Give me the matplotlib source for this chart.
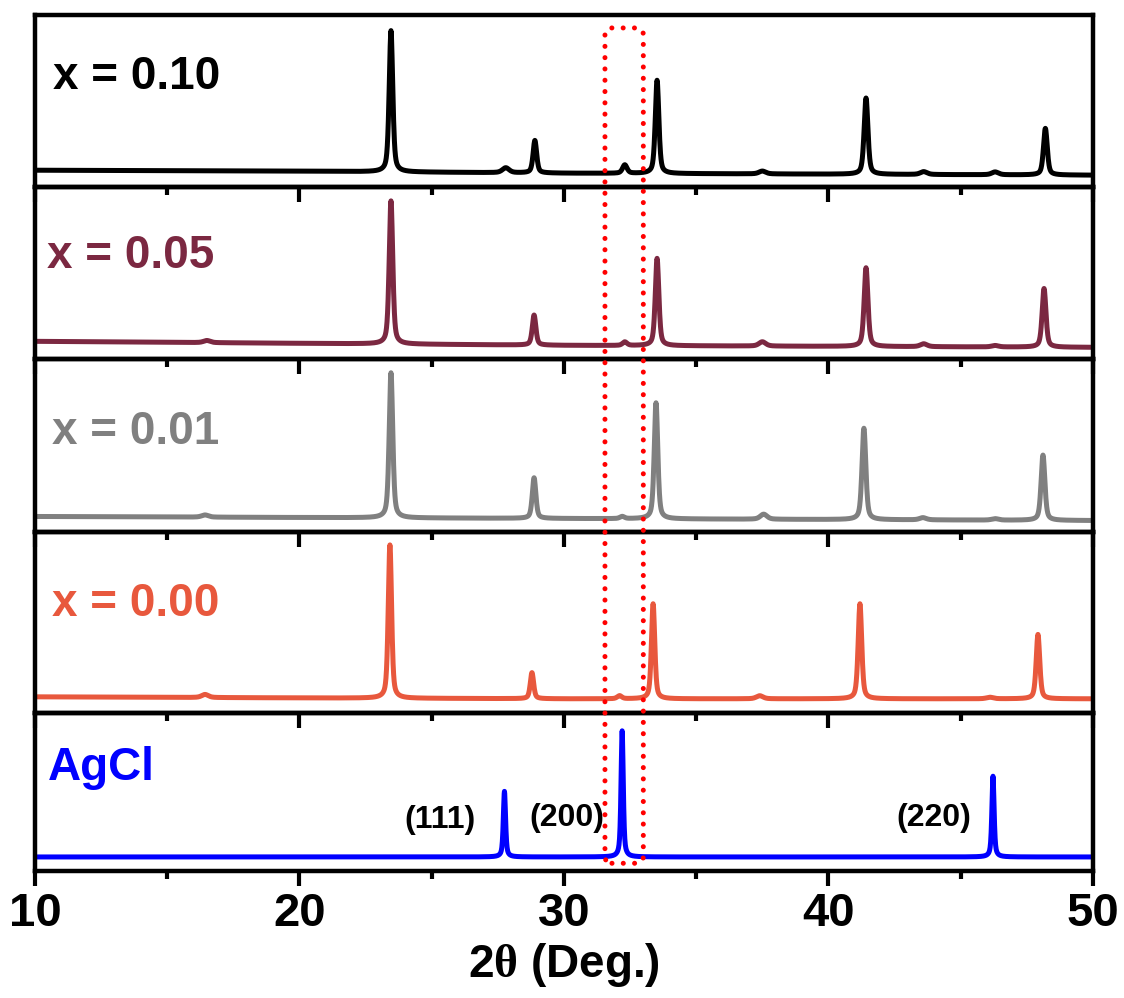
import numpy as np
import matplotlib.pyplot as plt
from matplotlib.patches import FancyBboxPatch
from matplotlib.transforms import IdentityTransform
from matplotlib.ticker import MultipleLocator

plt.rcParams['font.family'] = ['Liberation Sans', 'DejaVu Sans']
plt.rcParams['font.weight'] = 'bold'
# mathtext: bold sans for the words, upright serif theta
plt.rcParams['mathtext.fontset'] = 'custom'
plt.rcParams['mathtext.rm'] = 'Liberation Sans:bold'
plt.rcParams['mathtext.sf'] = 'Liberation Serif'

two_theta = np.arange(10, 50.0001, 0.01)

labels = ['x = 0.10', 'x = 0.05', 'x = 0.01', 'x = 0.00', 'AgCl']
colors = ['#000000', '#7b2841', '#808080', '#e8583d', '#0000ff']

# peak centre (deg), height (strongest = 100), FWHM (deg)
pos_010 = [23.46, 27.8, 28.9, 32.3, 33.52, 37.5, 41.42, 43.6, 46.3, 48.2]
amp_010 = [100, 3.5, 23, 6, 66, 2, 54, 2, 2, 33]
fwhm_010 = [0.16, 0.3, 0.16, 0.2, 0.16, 0.3, 0.17, 0.3, 0.3, 0.17]

pos_005 = [16.5, 23.46, 28.87, 32.3, 33.52, 37.5, 41.42, 43.6, 46.3, 48.15]
amp_005 = [1.5, 100, 21, 2.5, 61, 3, 55, 2, 1, 41]
fwhm_005 = [0.3, 0.16, 0.16, 0.2, 0.16, 0.3, 0.17, 0.3, 0.3, 0.17]

pos_001 = [16.43, 23.46, 28.87, 32.2, 33.48, 37.55, 41.34, 43.57, 46.3, 48.11]
amp_001 = [1.5, 100, 28, 1.5, 80, 3.5, 63, 1.5, 1, 45]
fwhm_001 = [0.3, 0.16, 0.16, 0.2, 0.16, 0.3, 0.17, 0.3, 0.3, 0.17]

pos_000 = [16.43, 23.42, 28.79, 32.1, 33.37, 37.4, 41.19, 46.1, 47.92]
amp_000 = [2, 100, 17, 2, 62, 2, 62, 1, 42]
fwhm_000 = [0.3, 0.15, 0.15, 0.2, 0.15, 0.3, 0.16, 0.3, 0.16]

pos_agcl = [27.75, 32.2, 46.22]
amp_agcl = [52, 100, 64]
fwhm_agcl = [0.1, 0.1, 0.1]

# slowly varying background, same units as the peaks
bg_x = [10, 20, 30, 40, 50]
bg_010 = [1.4, 0.7, -0.7, -1.4, -2.1]
bg_005 = [2.1, 0.7, -0.7, -1.4, -2.1]
bg_001 = [1.4, 0.7, 0.0, -0.7, -1.4]
bg_000 = [1.3, 0.6, 0.0, 0.0, 0.0]
bg_agcl = [0, 0, 0, 0, 0]

peaks = [(pos_010, amp_010, fwhm_010, bg_010),
         (pos_005, amp_005, fwhm_005, bg_005),
         (pos_001, amp_001, fwhm_001, bg_001),
         (pos_000, amp_000, fwhm_000, bg_000),
         (pos_agcl, amp_agcl, fwhm_agcl, bg_agcl)]

hkl_pos = [25.3, 30.1, 44.0]
hkl_y = [29, 31, 31]
hkl_text = ['(111)', '(200)', '(220)']


def pattern(x, pos, amp, fwhm, bg, eta=0.5):
    y = np.interp(x, bg_x, bg).astype(float)
    for p, a, w in zip(pos, amp, fwhm):
        g = np.exp(-4 * np.log(2) * ((x - p) / w) ** 2)
        l = 1.0 / (1 + 4 * ((x - p) / w) ** 2)
        y += a * (eta * l + (1 - eta) * g)
    return y


ylims = [(-10.6, 111.3), (-10.5, 109.8), (-9.0, 109.7), (-9.1, 109.1), (-11.1, 114.3)]
label_xy = [(0.017, 0.64), (0.011, 0.60), (0.016, 0.58), (0.016, 0.60), (0.012, 0.65)]

fig = plt.figure(figsize=(11.24, 9.98), dpi=100)
gs = fig.add_gridspec(5, 1, height_ratios=[172, 172, 172, 181, 158], hspace=0,
                      left=0.0311, right=0.9724, top=0.985, bottom=0.1273)

axes = []
for i in range(5):
    ax = fig.add_subplot(gs[i])
    ax.patch.set_alpha(0)
    pos, amp, fwhm, bg = peaks[i]
    eta = 0.6 if i == 4 else 0.5
    ax.plot(two_theta, pattern(two_theta, pos, amp, fwhm, bg, eta),
            color=colors[i], lw=3.6, solid_joinstyle='round')
    ax.set_xlim(10, 50)
    ax.set_ylim(*ylims[i])
    ax.set_yticks([])
    ax.xaxis.set_major_locator(MultipleLocator(10))
    ax.xaxis.set_minor_locator(MultipleLocator(5))
    ax.tick_params(axis='x', which='both', direction='out', top=False, bottom=True,
                   width=3, labelbottom=(i == 4), labelsize=34, pad=4)
    ax.tick_params(axis='x', which='major', length=11)
    ax.tick_params(axis='x', which='minor', length=5.5)
    for s in ax.spines.values():
        s.set_linewidth(3.2)
    ax.text(label_xy[i][0], label_xy[i][1], labels[i], transform=ax.transAxes,
            ha='left', va='center', fontsize=33, color=colors[i])
    axes.append(ax)

ax = axes[-1]
for xp, yp, t in zip(hkl_pos, hkl_y, hkl_text):
    ax.text(xp, yp, t, ha='center', va='center', fontsize=23)
ax.set_xlabel(r'$\text{2}\mathsf{\theta}\text{ (Deg.)}$', fontsize=33, labelpad=4)

# dotted frame around the (200) region, spanning all panels
x0 = ax.transData.transform((31.55, 0))[0]
x1 = ax.transData.transform((33.0, 0))[0]
y0 = fig.transFigure.transform((0, 0.135))[1]
y1 = fig.transFigure.transform((0, 0.972))[1]
box = FancyBboxPatch((x0, y0), x1 - x0, y1 - y0,
                     boxstyle='round,pad=0,rounding_size=7',
                     fill=False, ec='#ff0000', lw=3.6, ls=(0, (0.01, 2.25)),
                     capstyle='round', transform=IdentityTransform(), zorder=10)
fig.add_artist(box)

fig.savefig('out.png', dpi=100)
